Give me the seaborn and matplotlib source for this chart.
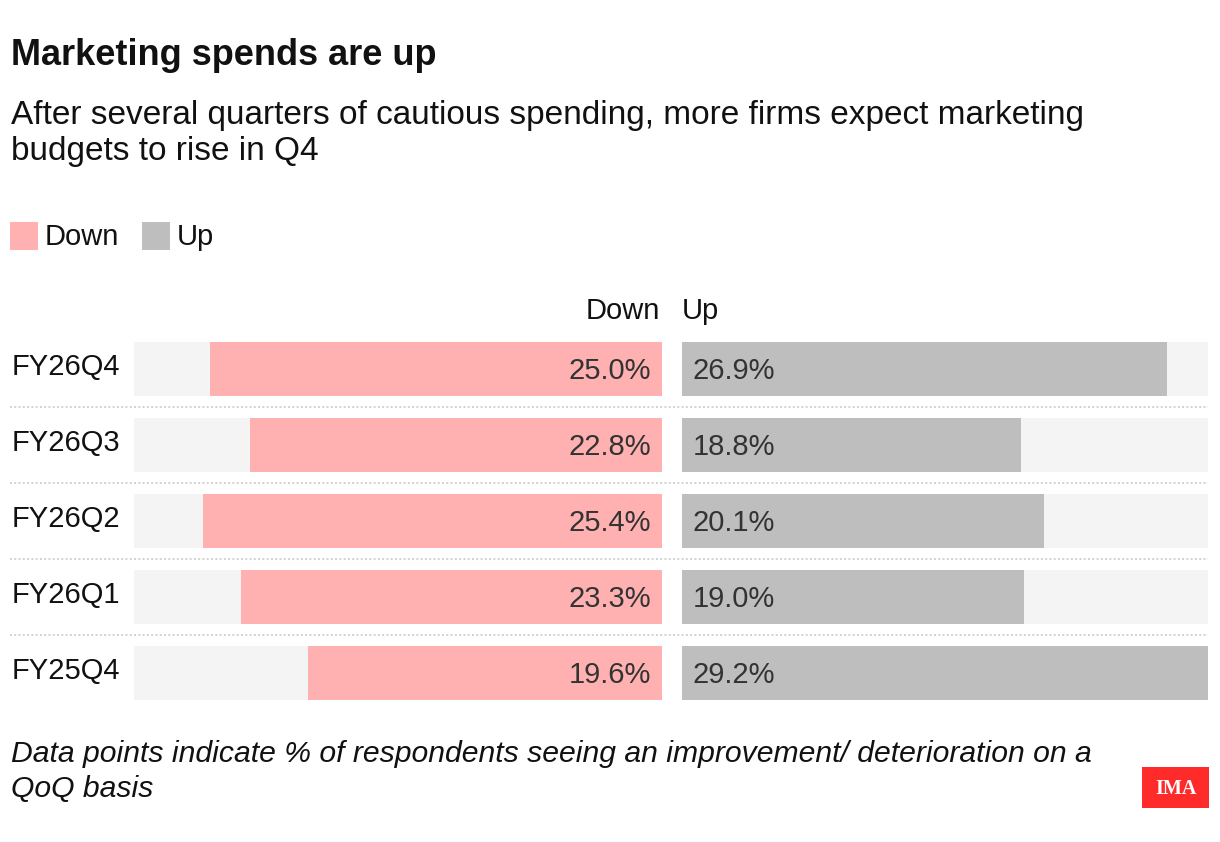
import matplotlib
matplotlib.use("Agg")
import matplotlib.pyplot as plt
from matplotlib.lines import Line2D
from matplotlib.patches import Rectangle
import seaborn as sns
import pandas as pd

categories = ["FY26Q4", "FY26Q3", "FY26Q2", "FY26Q1", "FY25Q4"]
down_values = [25.0, 22.8, 25.4, 23.3, 19.6]
up_values = [26.9, 18.8, 20.1, 19.0, 29.2]
series_names = ["Down", "Up"]

title = "Marketing spends are up"
subtitle_lines = ["After several quarters of cautious spending, more firms expect marketing",
                  "budgets to rise in Q4"]
footnote_lines = ["Data points indicate % of respondents seeing an improvement/ deterioration on a",
                  "QoQ basis"]

PINK = "#ffb1b1"
GREY = "#bebebe"
BG = "#f4f4f4"
TXT = "#333333"
INK = "#111111"

sns.set_theme(style="white")
plt.rcParams["font.family"] = ["Liberation Sans", "DejaVu Sans"]

W, H = 1220, 842
fig = plt.figure(figsize=(W / 100, H / 100), dpi=100)
fig.patch.set_facecolor("white")


def fx(px):
    return px / W


def fy(py):
    return 1 - py / H


ax_top, ax_bot = 331, 711
axL = fig.add_axes([fx(134), fy(ax_bot), fx(662 - 134), (ax_bot - ax_top) / H])
axR = fig.add_axes([fx(682), fy(ax_bot), fx(1208 - 682), (ax_bot - ax_top) / H])

vmax = max(max(down_values), max(up_values))
df = pd.DataFrame({"cat": categories, "Down": down_values, "Up": up_values,
                   "full": [vmax] * len(categories)})
bw = 54 / 76

for ax, col, color in [(axL, "Down", PINK), (axR, "Up", GREY)]:
    sns.barplot(data=df, x="full", y="cat", ax=ax, color=BG, width=bw,
                saturation=1, order=categories, linewidth=0)
    sns.barplot(data=df, x=col, y="cat", ax=ax, color=color, width=bw,
                saturation=1, order=categories, linewidth=0)
    ax.set_xlim(0, vmax)
    ax.set_ylim(len(categories) - 0.5, -0.5)
    ax.set_xlabel("")
    ax.set_ylabel("")
    ax.set_xticks([])
    ax.set_yticks([])
    for s in ax.spines.values():
        s.set_visible(False)
    ax.patch.set_alpha(0)

axL.invert_xaxis()

for i, v in enumerate(down_values):
    axL.text(0.6, i + 0.02, f"{v:.1f}%", ha="right", va="center",
             fontsize=21, color=TXT)
for i, v in enumerate(up_values):
    axR.text(0.6, i + 0.02, f"{v:.1f}%", ha="left", va="center",
             fontsize=21, color=TXT)

H_IN = fig.get_figheight() * fig.dpi

# category labels
for i, c in enumerate(categories):
    y_disp = axL.transData.transform((0, i - 0.03))[1]
    fig.text(fx(12), y_disp / H_IN, c, ha="left",
             va="center", fontsize=21, color=INK)

# separators
for i in range(len(categories) - 1):
    y_disp = axL.transData.transform((0, i + 0.5))[1]
    yf = y_disp / H_IN
    fig.add_artist(Line2D([fx(10), fx(1208)], [yf, yf], color="#d2d2d2",
                          lw=1.4, linestyle=(0, (1, 1.2))))

# column headers
fig.text(fx(660), fy(311), series_names[0], ha="right", va="center",
         fontsize=21, color=INK)
fig.text(fx(682), fy(311), series_names[1], ha="left", va="center",
         fontsize=21, color=INK)

# title / subtitle
fig.text(fx(11), fy(65), title, ha="left", va="baseline", fontsize=26,
         fontweight="bold", color=INK)
for k, line in enumerate(subtitle_lines):
    fig.text(fx(11), fy(124 + 36 * k), line, ha="left", va="baseline",
             fontsize=24, color=INK)

# legend
for (x0, name, color) in [(10, series_names[0], PINK), (142, series_names[1], GREY)]:
    fig.add_artist(Rectangle((fx(x0), fy(250)), fx(28), 28 / H, color=color,
                             transform=fig.transFigure, linewidth=0))
    fig.text(fx(x0 + 35), fy(237), name, ha="left", va="center",
             fontsize=21, color=INK)

# footnote
for k, line in enumerate(footnote_lines):
    fig.text(fx(11), fy(762 + 35 * k), line, ha="left", va="baseline",
             fontsize=21.7, style="italic", color=INK)

# IMA badge
fig.add_artist(Rectangle((fx(1142), fy(808)), fx(67), 41 / H, color="#ff2a2a",
                         transform=fig.transFigure, linewidth=0))
fig.text(fx(1176), fy(789), "IMA", ha="center", va="center", fontsize=14.5,
         fontweight="bold", color="white", family=["Liberation Serif", "DejaVu Serif"])

fig.savefig("out.png", dpi=100, facecolor="white")
